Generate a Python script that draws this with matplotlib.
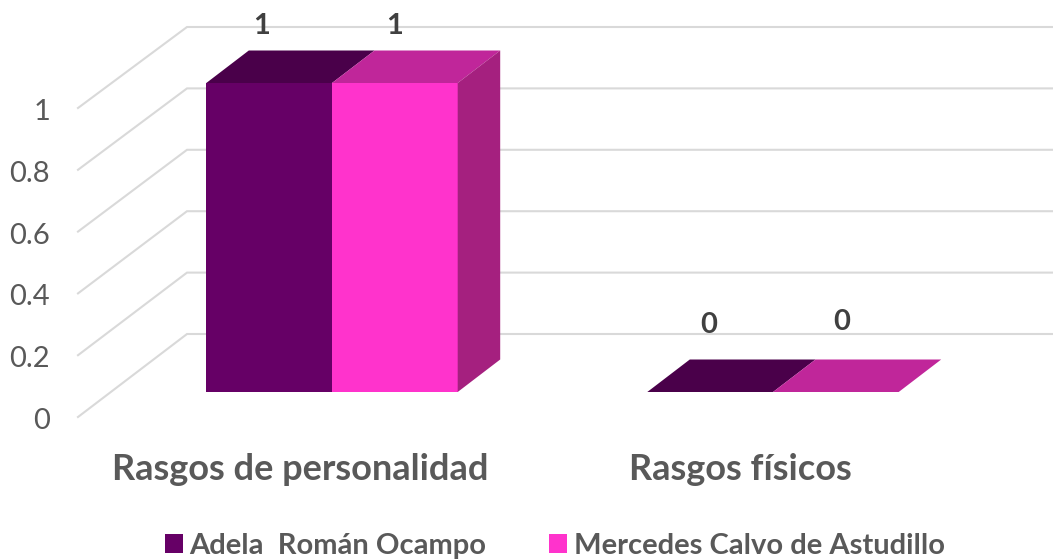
import numpy as np
import matplotlib
matplotlib.use('Agg')
import matplotlib.pyplot as plt
from matplotlib.patches import Polygon

categories = ['Rasgos de personalidad', 'Rasgos físicos']
series_names = ['Adela  Román Ocampo', 'Mercedes Calvo de Astudillo']
adela = [1, 0]
mercedes = [1, 0]
y_ticks = [0, 0.2, 0.4, 0.6, 0.8, 1]
y_tick_labels = ['0', '0.2', '0.4', '0.6', '0.8', '1']

FRONT = ['#660066', '#FF33CC']
TOP = ['#4A004A', '#C0269A']
SIDE = '#A5207F'
GRID = '#D9D9D9'
DARK = '#404040'
GREY = '#595959'

plt.rcParams['font.family'] = ['Lato', 'DejaVu Sans']

W, H = 1053, 559
# pixels of the bar floor: category 0 centre, spacing, value 0 and value 1
X0, X_UNIT = 332.0, 441.0
Y0, Y_UNIT = 392.0, 309.0
BAR_W = 125.7 / X_UNIT
DEPTH_X = 42.5 / X_UNIT
DEPTH_Y = 32.5 / Y_UNIT


def data_x(px):
    return (px - X0) / X_UNIT


def data_y(py):
    return (Y0 - py) / Y_UNIT


fig = plt.figure(figsize=(W / 100, H / 100), dpi=100)
ax = fig.add_axes([0, 0, 1, 1])
ax.set_xlim(data_x(0), data_x(W))
ax.set_ylim(data_y(H), data_y(0))
ax.axis('off')

# walls: floor-to-top grid lines, side wall then back wall
for v, lab in zip(y_ticks, y_tick_labels):
    py_front = 417 - v * 309
    py_back = 334 - v * 307
    ax.plot([data_x(78), data_x(187), data_x(W)],
            [data_y(py_front), data_y(py_back), data_y(py_back)],
            color=GRID, lw=1.5, zorder=1, solid_joinstyle='miter')
    ax.text(data_x(50), data_y(py_front + 4), lab, ha='right', va='center',
            fontsize=21, color=GREY)

x = np.arange(len(categories))
all_series = [adela, mercedes]
bars = []
for i, vals in enumerate(all_series):
    offset = (i - 0.5) * BAR_W
    rects = ax.bar(x + offset, vals, BAR_W, color=FRONT[i], label=series_names[i], zorder=3)
    bars.append(rects)
    for xc, v in zip(x + offset, vals):
        left, right = xc - BAR_W / 2, xc + BAR_W / 2
        top_face = [(left, v), (right, v), (right + DEPTH_X, v + DEPTH_Y), (left + DEPTH_X, v + DEPTH_Y)]
        ax.add_patch(Polygon(top_face, closed=True, fc=TOP[i], ec='none', zorder=3))
        if i == len(all_series) - 1 and v > 0:
            side = [(right, 0), (right + DEPTH_X, DEPTH_Y), (right + DEPTH_X, v + DEPTH_Y), (right, v)]
            ax.add_patch(Polygon(side, closed=True, fc=SIDE, ec='none', zorder=3))

# data labels sit a little above the top face, the last one slightly higher
label_px = [(262, 26), (395, 26), (709, 325), (842, 322)]
label_vals = [adela[0], mercedes[0], adela[1], mercedes[1]]
for (px, py), v in zip(label_px, label_vals):
    ax.text(data_x(px), data_y(py), str(v), ha='center', va='center',
            fontsize=21, fontweight='bold', color=DARK, zorder=5)

for xc, cat in zip([300, 740], categories):
    ax.text(data_x(xc), data_y(469), cat, ha='center', va='center',
            fontsize=26, fontweight='bold', color=GREY)

ax.legend(handles=bars, loc='center', ncols=2,
          bbox_to_anchor=(555 / W, 1 - 546 / H), frameon=False,
          prop={'size': 21, 'weight': 'bold'}, labelcolor=GREY,
          handlelength=0.62, handleheight=0.62, handletextpad=0.24,
          columnspacing=2.15, borderpad=0, borderaxespad=0)

fig.savefig('out.png', dpi=100)
